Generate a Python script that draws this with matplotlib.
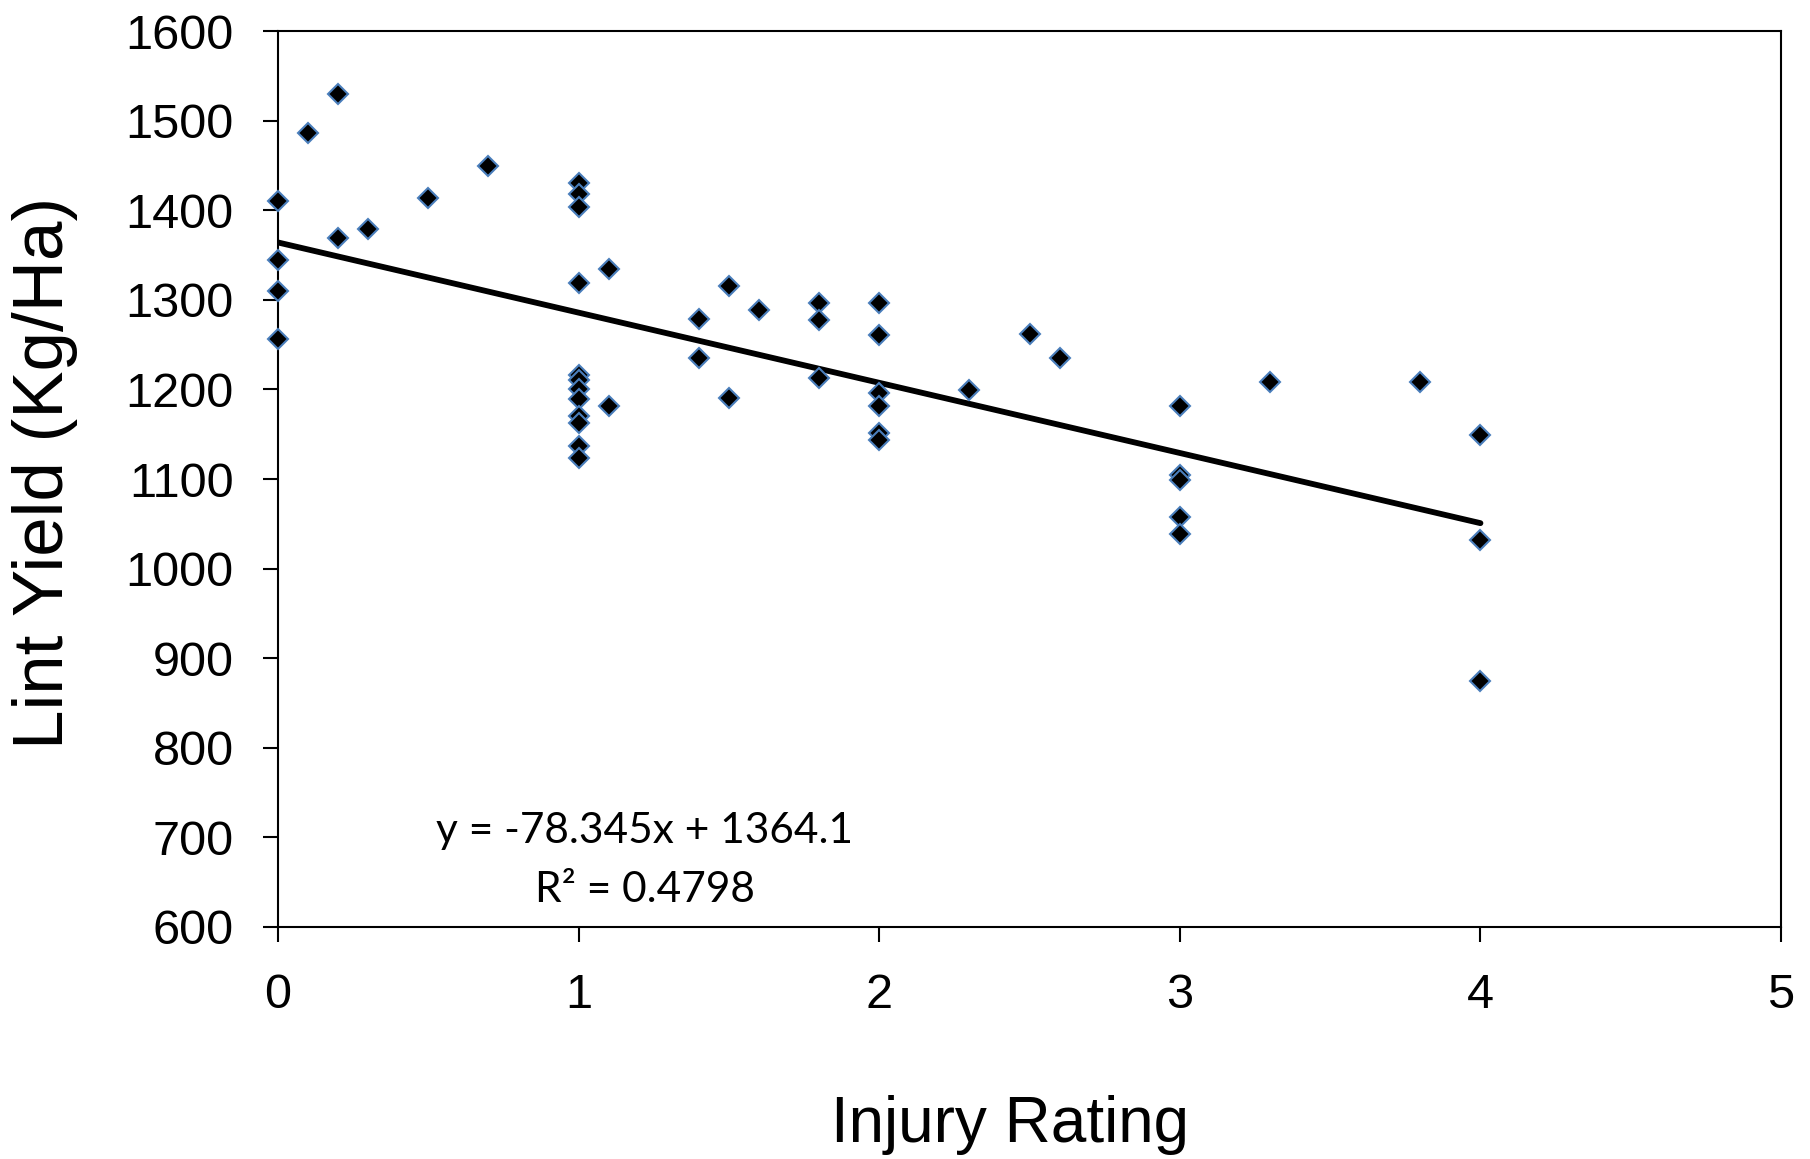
import numpy as np
import matplotlib
matplotlib.use("Agg")
import matplotlib.pyplot as plt

plt.rcParams['font.family'] = ['Liberation Sans', 'DejaVu Sans']

# injury rating vs lint yield
injury = [0, 0, 0, 0, 0.1, 0.2, 0.2, 0.3, 0.5, 0.7,
          1, 1, 1, 1, 1, 1, 1, 1, 1, 1, 1, 1,
          1.1, 1.1, 1.4, 1.4, 1.5, 1.5, 1.6, 1.8, 1.8, 1.8,
          2, 2, 2, 2, 2, 2, 2.3, 2.5, 2.6,
          3, 3, 3, 3, 3, 3.3, 3.8, 4, 4, 4]
lint_yield = [1410, 1345, 1310, 1256, 1486, 1530, 1369, 1379, 1414, 1450,
              1431, 1418, 1404, 1319, 1216, 1210, 1201, 1189, 1170, 1162, 1137, 1123,
              1334, 1182, 1279, 1235, 1316, 1190, 1289, 1296, 1278, 1213,
              1296, 1261, 1196, 1182, 1151, 1144, 1199, 1262, 1235,
              1182, 1104, 1099, 1058, 1039, 1208, 1208, 1149, 1032, 875]

# linear trend shown on the chart
slope = -78.345
intercept = 1364.1
r2 = 0.4798
trend_x = [0, 4]

xticks = [0, 1, 2, 3, 4, 5]
yticks = [600, 700, 800, 900, 1000, 1100, 1200, 1300, 1400, 1500, 1600]

fig = plt.figure(figsize=(18.1, 11.59), dpi=100)
ax = fig.add_axes([0.1536, 0.2003, 0.8304, 0.7728])

tx = np.array(trend_x, dtype=float)
ax.plot(tx, slope * tx + intercept, color='black', lw=4.2,
        solid_capstyle='round', zorder=2)
ax.plot(injury, lint_yield, linestyle='none', marker='D', ms=10.5,
        markerfacecolor='black', markeredgecolor='#4a7ebb', mew=1.5,
        clip_on=False, zorder=4)

ax.set_xlim(0, 5)
ax.set_ylim(600, 1600)
ax.set_xticks(xticks)
ax.set_yticks(yticks)
ax.tick_params(axis='both', direction='out', length=11, width=1.5,
               labelsize=35, color='black')
ax.tick_params(axis='y', pad=21)
ax.tick_params(axis='x', pad=22)
for sp in ax.spines.values():
    sp.set_linewidth(1.5)
    sp.set_color('black')

fig.text(0.025, 0.592, 'Lint Yield (Kg/Ha)', rotation=90, fontsize=51,
         ha='center', va='center')
fig.text(0.558, 0.029, 'Injury Rating', fontsize=46, ha='center', va='center')

ax.text(1.22, 707, 'y = %.3fx + %.1f' % (slope, intercept), fontsize=30.5,
        family=['Lato', 'DejaVu Sans'], ha='center', va='center')
ax.text(1.22, 641, 'R\u00b2 = %.4f' % r2, fontsize=30.5,
        family=['Lato', 'DejaVu Sans'], ha='center', va='center')

fig.savefig('out.png', dpi=100)
